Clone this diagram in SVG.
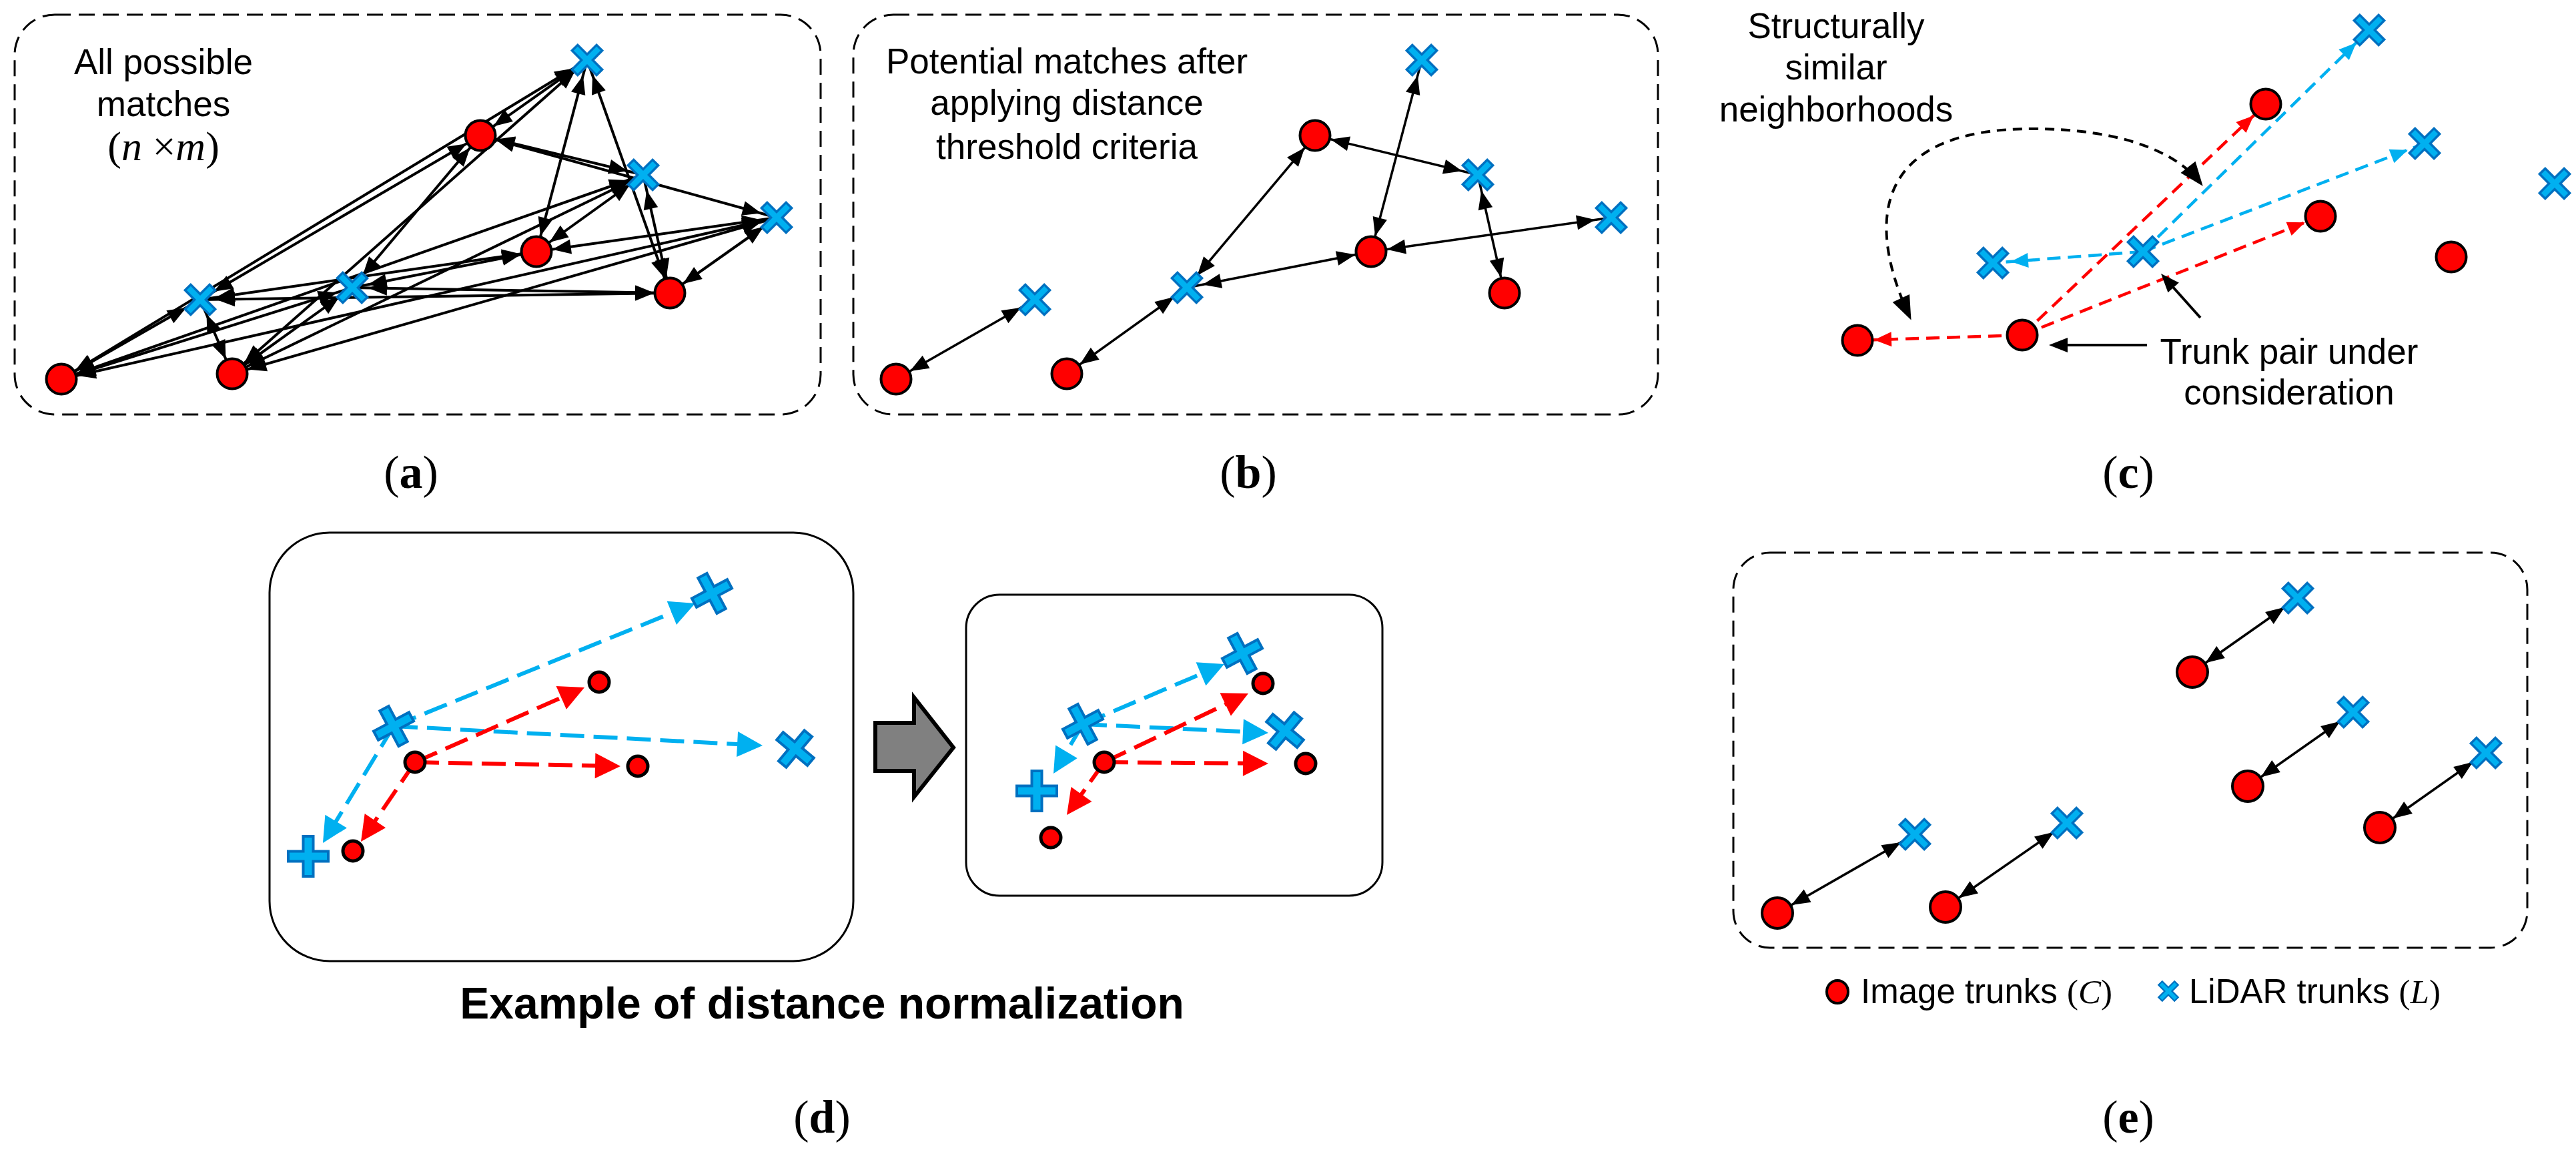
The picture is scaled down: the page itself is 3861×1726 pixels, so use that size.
<svg xmlns="http://www.w3.org/2000/svg" width="3861" height="1726" viewBox="0 0 3861 1726">
<style>
.txt{font-family:"Liberation Sans",Arial,sans-serif;font-size:53px;fill:#000;text-anchor:middle}
.ttl{font-family:"Liberation Sans",Arial,sans-serif;font-size:66px;font-weight:bold;fill:#000;text-anchor:middle}
.leg{font-family:"Liberation Sans",Arial,sans-serif;font-size:51px;fill:#000}
.ser{font-family:"Liberation Serif","Times New Roman",serif}
.lab{font-family:"Liberation Serif","Times New Roman",serif;font-size:70px;fill:#000;text-anchor:middle}
.math{font-family:"Liberation Serif","Times New Roman",serif;font-size:62px;fill:#000;text-anchor:middle}
.box{fill:none;stroke:#000;stroke-width:3;stroke-dasharray:24 12}
.sbox{fill:none;stroke:#000;stroke-width:3}
.rc{fill:#FF0000;stroke:#000;stroke-width:4}
.rs{fill:#FF0000;stroke:#000;stroke-width:5}
.bx{fill:#00B0F0;stroke:#0070C0;stroke-width:3.5;stroke-linejoin:miter}
.a2{stroke:#000;stroke-width:4;fill:none;marker-start:url(#ah);marker-end:url(#ah)}
.b2{stroke:#000;stroke-width:3.5;fill:none;marker-start:url(#ah);marker-end:url(#ah)}
.cr{stroke:#FF0000;stroke-width:4.5;stroke-dasharray:20 11;fill:none;marker-end:url(#mcr)}
.cb{stroke:#00B0F0;stroke-width:4.5;stroke-dasharray:20 11;fill:none;marker-end:url(#mcb)}
.ck{stroke:#000;stroke-width:4;fill:none;marker-end:url(#mck)}
.cc{stroke:#000;stroke-width:4;fill:none;stroke-dasharray:14 10;marker-start:url(#mcc);marker-end:url(#mcc)}
.dr{stroke:#FF0000;stroke-width:6;stroke-dasharray:36 14;fill:none;marker-end:url(#mdr)}
.db{stroke:#00B0F0;stroke-width:6;stroke-dasharray:36 14;fill:none;marker-end:url(#mdb)}
</style>
<defs>
<polygon id="xs" class="bx" transform="rotate(45)" points="-6,-26 6,-26 6,-6 26,-6 26,6 6,6 6,26 -6,26 -6,6 -26,6 -26,-6 -6,-6"/>
<polygon id="xl" class="bx" style="stroke-width:4" points="-7.5,-30 7.5,-30 7.5,-7.5 30,-7.5 30,7.5 7.5,7.5 7.5,30 -7.5,30 -7.5,7.5 -30,7.5 -30,-7.5 -7.5,-7.5"/>
<marker id="ah" markerUnits="userSpaceOnUse" markerWidth="28" markerHeight="22" refX="52" refY="11" orient="auto-start-reverse" overflow="visible"><path d="M0,0 L28,11 L0,22 z" fill="#000"/></marker>
<marker id="mcr" markerUnits="userSpaceOnUse" markerWidth="26" markerHeight="22" refX="51" refY="11" orient="auto" overflow="visible"><path d="M0,0 L26,11 L0,22 z" fill="#FF0000"/></marker>
<marker id="mcb" markerUnits="userSpaceOnUse" markerWidth="26" markerHeight="22" refX="53" refY="11" orient="auto" overflow="visible"><path d="M0,0 L26,11 L0,22 z" fill="#00B0F0"/></marker>
<marker id="mck" markerUnits="userSpaceOnUse" markerWidth="28" markerHeight="22" refX="22" refY="11" orient="auto" overflow="visible"><path d="M0,0 L28,11 L0,22 z" fill="#000"/></marker>
<marker id="mcc" markerUnits="userSpaceOnUse" markerWidth="36" markerHeight="28" refX="30" refY="14" orient="auto-start-reverse" overflow="visible"><path d="M0,0 L36,14 L0,28 z" fill="#000"/></marker>
<marker id="mdr" markerUnits="userSpaceOnUse" markerWidth="38" markerHeight="38" refX="30" refY="19" orient="auto" overflow="visible"><path d="M0,0 L38,19 L0,38 z" fill="#FF0000"/></marker>
<marker id="mdb" markerUnits="userSpaceOnUse" markerWidth="38" markerHeight="38" refX="30" refY="19" orient="auto" overflow="visible"><path d="M0,0 L38,19 L0,38 z" fill="#00B0F0"/></marker>
</defs>
<rect width="3861" height="1726" fill="#fff"/>

<!-- frames -->
<g id="frames">
<rect class="box" x="22" y="22" width="1208" height="599" rx="60" ry="60"/>
<rect class="box" x="1279" y="22" width="1206" height="599" rx="60" ry="60"/>
<rect class="sbox" x="404" y="798" width="875" height="642" rx="90" ry="90"/>
<rect class="sbox" x="1448" y="891" width="624" height="451" rx="50" ry="50"/>
<rect class="box" x="2598" y="828" width="1190" height="592" rx="55" ry="55"/>
</g>

<g id="connectors">
<!-- (a) all 25 pairs -->
<line class="a2" x1="720" y1="203" x2="880" y2="90"/>
<line class="a2" x1="720" y1="203" x2="964" y2="262"/>
<line class="a2" x1="720" y1="203" x2="1164" y2="326"/>
<line class="a2" x1="720" y1="203" x2="528" y2="431"/>
<line class="a2" x1="720" y1="203" x2="300" y2="449"/>
<line class="a2" x1="804" y1="377" x2="880" y2="90"/>
<line class="a2" x1="804" y1="377" x2="964" y2="262"/>
<line class="a2" x1="804" y1="377" x2="1164" y2="326"/>
<line class="a2" x1="804" y1="377" x2="528" y2="431"/>
<line class="a2" x1="804" y1="377" x2="300" y2="449"/>
<line class="a2" x1="1004" y1="439" x2="880" y2="90"/>
<line class="a2" x1="1004" y1="439" x2="964" y2="262"/>
<line class="a2" x1="1004" y1="439" x2="1164" y2="326"/>
<line class="a2" x1="1004" y1="439" x2="528" y2="431"/>
<line class="a2" x1="1004" y1="439" x2="300" y2="449"/>
<line class="a2" x1="92" y1="568" x2="880" y2="90"/>
<line class="a2" x1="92" y1="568" x2="964" y2="262"/>
<line class="a2" x1="92" y1="568" x2="1164" y2="326"/>
<line class="a2" x1="92" y1="568" x2="528" y2="431"/>
<line class="a2" x1="92" y1="568" x2="300" y2="449"/>
<line class="a2" x1="348" y1="560" x2="880" y2="90"/>
<line class="a2" x1="348" y1="560" x2="964" y2="262"/>
<line class="a2" x1="348" y1="560" x2="1164" y2="326"/>
<line class="a2" x1="348" y1="560" x2="528" y2="431"/>
<line class="a2" x1="348" y1="560" x2="300" y2="449"/>
<!-- (b) -->
<line class="b2" x1="1343" y1="568" x2="1551" y2="449"/>
<line class="b2" x1="1599" y1="560" x2="1779" y2="431"/>
<line class="b2" x1="1779" y1="431" x2="1971" y2="203"/>
<line class="b2" x1="1779" y1="431" x2="2055" y2="377"/>
<line class="b2" x1="1971" y1="203" x2="2215" y2="262"/>
<line class="b2" x1="2131" y1="90" x2="2055" y2="377"/>
<line class="b2" x1="2215" y1="262" x2="2255" y2="439"/>
<line class="b2" x1="2055" y1="377" x2="2415" y2="326"/>
<!-- (c) -->
<line class="cr" x1="3031" y1="502" x2="3396" y2="156"/>
<line class="cr" x1="3031" y1="502" x2="3478" y2="324"/>
<line class="cr" x1="3031" y1="502" x2="2784" y2="510"/>
<line class="cb" x1="3212" y1="377" x2="3551" y2="45"/>
<line class="cb" x1="3212" y1="377" x2="3634" y2="215"/>
<line class="cb" x1="3212" y1="377" x2="2987" y2="394"/>
<line class="ck" x1="3218" y1="517" x2="3077" y2="517"/>
<line class="ck" x1="3298" y1="476" x2="3243" y2="414.5"/>
<path class="cc" d="M2862,474 C2795,330 2810,193 3046,193 C3180,193 3262,228 3298,274"/>
<!-- (d) left -->
<line class="db" x1="590" y1="1088" x2="1034.6" y2="907"/>
<line class="db" x1="590" y1="1088" x2="1135" y2="1116.6"/>
<line class="db" x1="590" y1="1088" x2="488.1" y2="1256.2"/>
<line class="dr" x1="622" y1="1142" x2="868.7" y2="1033.2"/>
<line class="dr" x1="622" y1="1142" x2="922" y2="1147.8"/>
<line class="dr" x1="622" y1="1142" x2="545.5" y2="1254.4"/>
<!-- (d) right -->
<line class="db" x1="1623" y1="1085" x2="1827.6" y2="998.1"/>
<line class="db" x1="1623" y1="1085" x2="1893" y2="1097.6"/>
<line class="db" x1="1623" y1="1085" x2="1583.1" y2="1152.1"/>
<line class="dr" x1="1655" y1="1142" x2="1863.8" y2="1042.4"/>
<line class="dr" x1="1655" y1="1142" x2="1893" y2="1143.9"/>
<line class="dr" x1="1655" y1="1142" x2="1603.6" y2="1214.5"/>
<!-- (e) -->
<line class="b2" x1="3286" y1="1007" x2="3444" y2="896"/>
<line class="b2" x1="3369" y1="1178" x2="3527" y2="1067"/>
<line class="b2" x1="3567" y1="1240" x2="3726" y2="1128"/>
<line class="b2" x1="2664" y1="1368" x2="2870" y2="1250"/>
<line class="b2" x1="2916" y1="1359" x2="3098" y2="1233"/>
</g>

<!-- (a) nodes -->
<g id="a-r1"><circle class="rc" cx="720" cy="203" r="22.5"/></g>
<g id="a-r2"><circle class="rc" cx="804" cy="377" r="22.5"/></g>
<g id="a-r3"><circle class="rc" cx="1004" cy="439" r="22.5"/></g>
<g id="a-r4"><circle class="rc" cx="92" cy="568" r="22.5"/></g>
<g id="a-r5"><circle class="rc" cx="348" cy="560" r="22.5"/></g>
<g id="a-x1"><use href="#xs" x="880" y="90"/></g>
<g id="a-x2"><use href="#xs" x="964" y="262"/></g>
<g id="a-x3"><use href="#xs" x="1164" y="326"/></g>
<g id="a-x4"><use href="#xs" x="528" y="431"/></g>
<g id="a-x5"><use href="#xs" x="300" y="449"/></g>

<!-- (b) nodes -->
<g id="b-r1"><circle class="rc" cx="1971" cy="203" r="22.5"/></g>
<g id="b-r2"><circle class="rc" cx="2055" cy="377" r="22.5"/></g>
<g id="b-r3"><circle class="rc" cx="2255" cy="439" r="22.5"/></g>
<g id="b-r4"><circle class="rc" cx="1343" cy="568" r="22.5"/></g>
<g id="b-r5"><circle class="rc" cx="1599" cy="560" r="22.5"/></g>
<g id="b-x1"><use href="#xs" x="2131" y="90"/></g>
<g id="b-x2"><use href="#xs" x="2215" y="262"/></g>
<g id="b-x3"><use href="#xs" x="2415" y="326"/></g>
<g id="b-x4"><use href="#xs" x="1779" y="431"/></g>
<g id="b-x5"><use href="#xs" x="1551" y="449"/></g>

<!-- (c) nodes -->
<g id="c-r1"><circle class="rc" cx="3396" cy="156" r="22.5"/></g>
<g id="c-r2"><circle class="rc" cx="3478" cy="324" r="22.5"/></g>
<g id="c-r3"><circle class="rc" cx="3674" cy="385" r="22.5"/></g>
<g id="c-r4"><circle class="rc" cx="3031" cy="502" r="22.5"/></g>
<g id="c-r5"><circle class="rc" cx="2784" cy="510" r="22.5"/></g>
<g id="c-x1"><use href="#xs" x="3551" y="45"/></g>
<g id="c-x2"><use href="#xs" x="3634" y="215"/></g>
<g id="c-x3"><use href="#xs" x="3829" y="275"/></g>
<g id="c-x4"><use href="#xs" x="3212" y="377"/></g>
<g id="c-x5"><use href="#xs" x="2987" y="394"/></g>

<!-- (d) nodes -->
<g id="dl-x1"><use href="#xl" transform="translate(1067,889) rotate(-28)"/></g>
<g id="dl-x2"><use href="#xl" transform="translate(1192,1122) rotate(40)"/></g>
<g id="dl-x3"><use href="#xl" transform="translate(590,1088) rotate(-28)"/></g>
<g id="dl-x4"><use href="#xl" transform="translate(462,1283)"/></g>
<g id="dl-r1"><circle class="rs" cx="898" cy="1022" r="15"/></g>
<g id="dl-r2"><circle class="rs" cx="622" cy="1142" r="15"/></g>
<g id="dl-r3"><circle class="rs" cx="956" cy="1148" r="15"/></g>
<g id="dl-r4"><circle class="rs" cx="529" cy="1275" r="15"/></g>
<g id="dr-x1"><use href="#xl" transform="translate(1862,979) rotate(-28)"/></g>
<g id="dr-x2"><use href="#xl" transform="translate(1926,1095) rotate(40)"/></g>
<g id="dr-x3"><use href="#xl" transform="translate(1623,1085) rotate(-28)"/></g>
<g id="dr-x4"><use href="#xl" transform="translate(1554,1185)"/></g>
<g id="dr-r1"><circle class="rs" cx="1893" cy="1024" r="15"/></g>
<g id="dr-r2"><circle class="rs" cx="1655" cy="1142" r="15"/></g>
<g id="dr-r3"><circle class="rs" cx="1957" cy="1144" r="15"/></g>
<g id="dr-r4"><circle class="rs" cx="1575" cy="1255" r="15"/></g>
<g id="d-arrow"><polygon points="1312,1083 1370,1083 1370,1045 1429,1120 1370,1194 1370,1155 1312,1155" fill="#808080" stroke="#000" stroke-width="6" stroke-linejoin="miter"/></g>

<!-- (e) nodes -->
<g id="e-r1"><circle class="rc" cx="3286" cy="1007" r="23"/></g>
<g id="e-r2"><circle class="rc" cx="3369" cy="1178" r="23"/></g>
<g id="e-r3"><circle class="rc" cx="3567" cy="1240" r="23"/></g>
<g id="e-r4"><circle class="rc" cx="2664" cy="1368" r="23"/></g>
<g id="e-r5"><circle class="rc" cx="2916" cy="1359" r="23"/></g>
<g id="e-x1"><use href="#xs" x="3444" y="896"/></g>
<g id="e-x2"><use href="#xs" x="3527" y="1067"/></g>
<g id="e-x3"><use href="#xs" x="3726" y="1128"/></g>
<g id="e-x4"><use href="#xs" x="2870" y="1250"/></g>
<g id="e-x5"><use href="#xs" x="3098" y="1233"/></g>

<!-- legend -->
<g id="legend">
<ellipse class="rc" cx="2754" cy="1486" rx="16" ry="17"/>
<text class="leg" x="2789" y="1503">Image trunks <tspan class="ser">(<tspan font-style="italic">C</tspan>)</tspan></text>
<use href="#xs" transform="translate(3250,1485) scale(0.65)"/>
<text class="leg" x="3281" y="1503">LiDAR trunks <tspan class="ser">(<tspan font-style="italic">L</tspan>)</tspan></text>
</g>

<!-- texts -->
<g id="text-a">
<text class="txt" x="245" y="111">All possible</text>
<text class="txt" x="245" y="174">matches</text>
<text class="math" x="245" y="240">(<tspan font-style="italic">n</tspan> ×<tspan font-style="italic">m</tspan>)</text>
</g>
<g id="text-b">
<text class="txt" x="1599" y="110">Potential matches after</text>
<text class="txt" x="1599" y="172">applying distance</text>
<text class="txt" x="1599" y="238">threshold criteria</text>
</g>
<g id="text-c">
<text class="txt" x="2752" y="57">Structurally</text>
<text class="txt" x="2752" y="119">similar</text>
<text class="txt" x="2752" y="182">neighborhoods</text>
<text class="txt" x="3431" y="545">Trunk pair under</text>
<text class="txt" x="3431" y="606">consideration</text>
</g>
<g id="text-d">
<text class="ttl" x="1232" y="1526">Example of distance normalization</text>
</g>
<g id="labels">
<text class="lab" x="616" y="731">(<tspan font-weight="bold">a</tspan>)</text>
<text class="lab" x="1871" y="731">(<tspan font-weight="bold">b</tspan>)</text>
<text class="lab" x="3190" y="731">(<tspan font-weight="bold">c</tspan>)</text>
<text class="lab" x="1232" y="1697">(<tspan font-weight="bold">d</tspan>)</text>
<text class="lab" x="3190" y="1697">(<tspan font-weight="bold">e</tspan>)</text>
</g>
</svg>
